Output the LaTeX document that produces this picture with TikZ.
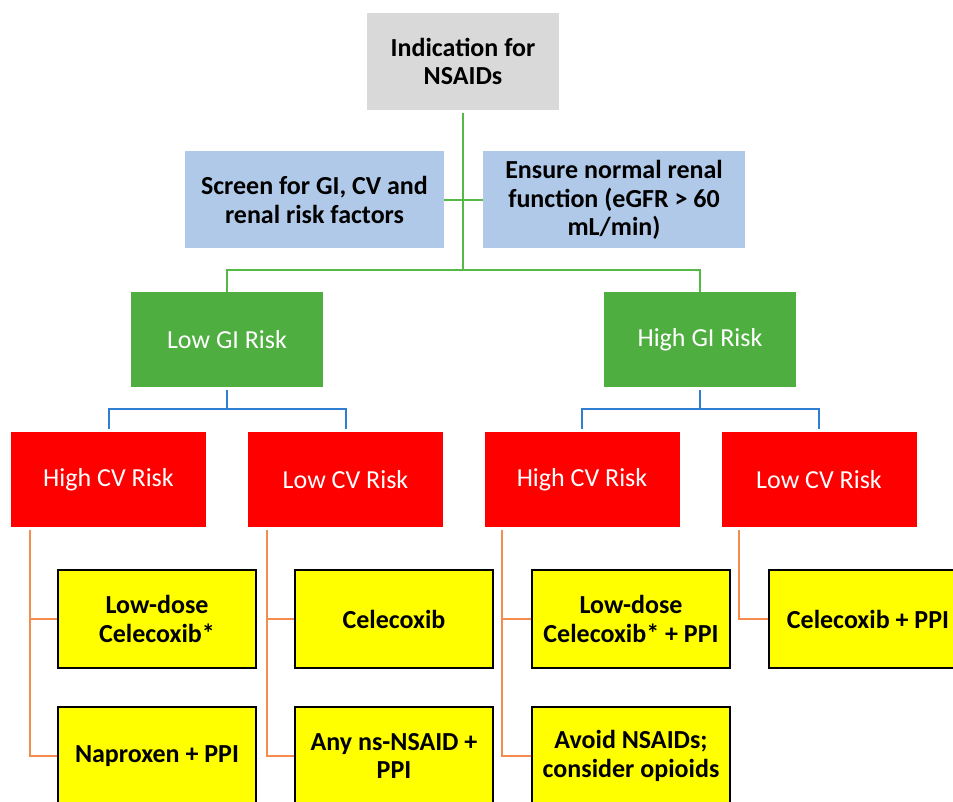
\documentclass[tikz,border=0pt]{standalone}
\usepackage{fontspec}
\setmainfont{Carlito}
\usetikzlibrary{
  positioning
}
\definecolor{startgray}{HTML}{D9D9D9}
\definecolor{screenblue}{HTML}{B0C9E8}
\definecolor{gigreen}{HTML}{4EAE3F}
\definecolor{linegreen}{HTML}{55B946}
\definecolor{lineblue}{HTML}{2F7ED2}
\definecolor{lineorange}{HTML}{F58B4C}
\definecolor{drugyellow}{HTML}{FFFF00}

\begin{document}
\begin{tikzpicture}[
    x=1pt, y=-1pt,
    startbox/.style={
      rectangle, fill=startgray,
      minimum width=192pt, minimum height=97pt,
      align=center, font=\fontsize{26}{28.5}\selectfont\bfseries
    },
    screenbox/.style={
      rectangle, fill=screenblue,
      minimum height=97pt,
      align=center, font=\fontsize{26}{28.5}\selectfont\bfseries
    },
    gibox/.style={
      rectangle, fill=gigreen, text=white,
      minimum width=192pt, minimum height=95pt,
      font=\fontsize{26}{28.5}\selectfont
    },
    cvbox/.style={
      rectangle, fill=red, text=white,
      minimum width=195pt, minimum height=95pt,
      font=\fontsize{26}{28.5}\selectfont
    },
    drugbox/.style={
      rectangle, draw=black, line width=1.5pt, fill=drugyellow,
      minimum width=198pt, minimum height=98pt,
      align=center, font=\fontsize{26}{28.5}\selectfont\bfseries
    },
    gline/.style={draw=linegreen, line width=2pt},
    bline/.style={draw=lineblue, line width=2pt},
    oline/.style={draw=lineorange, line width=1.8pt}
  ]

  \useasboundingbox (0,0) rectangle (953,802);
  \clip (0,0) rectangle (953,802);

  % Top
  \node[startbox] (indication) at (463,61.5) {Indication for\\NSAIDs};

  % Screening
  \node[screenbox, minimum width=259pt] (screen) at (314.5,200) {Screen for GI, CV and\\renal risk factors};
  \node[screenbox, minimum width=262pt] (renal) at (614,200) {Ensure normal renal\\function (eGFR > 60\\mL/min)};

  % GI risk
  \node[gibox] (lowgi) at (227,339.5) {Low GI Risk};
  \node[gibox] (highgi) at (700,339.5) {High GI Risk};

  % CV risk
  \node[cvbox] (lowgihcv) at (108.5,479.5) {High CV Risk};
  \node[cvbox] (lowgilcv) at (345.5,479.5) {Low CV Risk};
  \node[cvbox] (highgihcv) at (582,479.5) {High CV Risk};
  \node[cvbox] (highgilcv) at (819,479.5) {Low CV Risk};

  % Drugs
  \node[drugbox] (ldcelecox) at (157,619) {Low-dose\\Celecoxib*};
  \node[drugbox] (naproxen) at (157,756) {Naproxen + PPI};
  \node[drugbox] (celecox) at (394,619) {Celecoxib};
  \node[drugbox] (nsaidppi) at (394,756) {Any ns-NSAID +\\PPI};
  \node[drugbox] (ldcelecoxppi) at (631,619) {Low-dose\\Celecoxib* + PPI};
  \node[drugbox] (avoid) at (631,756) {Avoid NSAIDs;\\consider opioids};
  \node[drugbox] (celecoxppi) at (868,619) {Celecoxib + PPI};

  % Green connectors
  \coordinate (gisplit) at (463,270);
  \draw[gline] ([yshift=-3pt]indication.south) -- (gisplit);
  \draw[gline] (screen.east) -- (renal.west);
  \draw[gline] (lowgi.north) |- (gisplit) -| (highgi.north);

  % Blue connectors
  \draw[bline] ([yshift=-3pt]lowgi.south) -- ++(0,19) coordinate (lowsplit);
  \draw[bline] ([yshift=3pt]lowgihcv.north) |- (lowsplit) -| ([yshift=3pt]lowgilcv.north);
  \draw[bline] ([yshift=-3pt]highgi.south) -- ++(0,19) coordinate (highsplit);
  \draw[bline] ([yshift=3pt]highgihcv.north) |- (highsplit) -| ([yshift=3pt]highgilcv.north);

  % Orange connectors
  \draw[oline] ([xshift=19pt,yshift=-3pt]lowgihcv.south west) |- (ldcelecox.west);
  \draw[oline] ([xshift=19pt,yshift=-3pt]lowgihcv.south west) |- (naproxen.west);
  \draw[oline] ([xshift=19pt,yshift=-3pt]lowgilcv.south west) |- (celecox.west);
  \draw[oline] ([xshift=19pt,yshift=-3pt]lowgilcv.south west) |- (nsaidppi.west);
  \draw[oline] ([xshift=18pt,yshift=-3pt]highgihcv.south west) |- (ldcelecoxppi.west);
  \draw[oline] ([xshift=18pt,yshift=-3pt]highgihcv.south west) |- (avoid.west);
  \draw[oline] ([xshift=18pt,yshift=-3pt]highgilcv.south west) |- (celecoxppi.west);

\end{tikzpicture}
\end{document}
